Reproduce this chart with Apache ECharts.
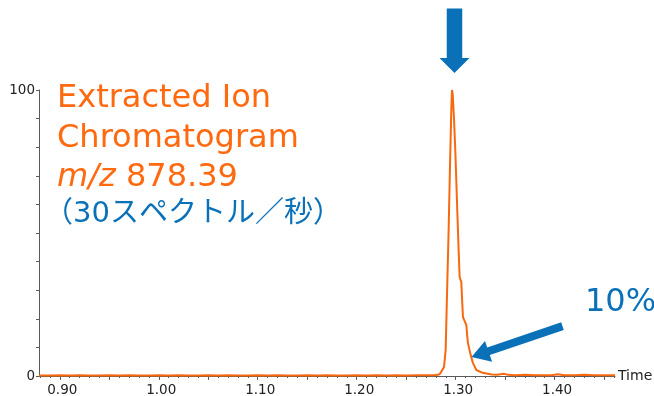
<!DOCTYPE html>
<html>
<head>
<meta charset="utf-8">
<script src="https://cdn.jsdelivr.net/npm/echarts@6/dist/echarts.min.js"></script>
<style>
  html, body { margin: 0; padding: 0; background: #ffffff; }
  #chart { width: 654px; height: 396px; }
</style>
</head>
<body>
<div id="chart"></div>
<script>
// Retention time (min) and relative intensity (%) of the extracted ion chromatogram
const times = [
  0.879, 0.89, 0.90, 0.91, 0.92, 0.93, 0.94, 0.95, 0.96, 0.97, 0.98, 0.99,
  1.00, 1.01, 1.02, 1.03, 1.04, 1.05, 1.06, 1.07, 1.08, 1.09, 1.10, 1.11,
  1.12, 1.13, 1.14, 1.15, 1.16, 1.17, 1.18, 1.19, 1.20, 1.21, 1.22, 1.23,
  1.24, 1.25, 1.26, 1.27, 1.278, 1.2818, 1.2840, 1.2859, 1.2882, 1.2899,
  1.2912, 1.2929, 1.2944, 1.2956, 1.2963, 1.2970, 1.2983, 1.2997, 1.3017,
  1.3030, 1.3040, 1.3057, 1.3065, 1.3074, 1.3091, 1.3108, 1.3116, 1.3124,
  1.3152, 1.3175, 1.3209, 1.3273, 1.3364, 1.342, 1.3485, 1.353, 1.36, 1.37,
  1.38, 1.39, 1.397, 1.403, 1.41, 1.42, 1.43, 1.44, 1.45, 1.461
];
const intensity = [
  0.2, 0.2, 0.3, 0.2, 0.3, 0.2, 0.2, 0.3, 0.2, 0.3, 0.2, 0.2,
  0.3, 0.2, 0.3, 0.2, 0.2, 0.3, 0.2, 0.3, 0.2, 0.2, 0.3, 0.2,
  0.3, 0.2, 0.2, 0.3, 0.2, 0.3, 0.2, 0.2, 0.3, 0.2, 0.3, 0.2,
  0.3, 0.2, 0.3, 0.3, 0.3, 0.4, 0.7, 1.2, 3.1, 9.1,
  27.6, 51, 75.5, 93, 100, 98.5, 90.2, 78.3, 57.3,
  44, 34.6, 32.9, 26.6, 20.6, 19.2, 17.8, 14.3, 11.5,
  7.3, 4.5, 2.1, 1.1, 0.5, 0.4, 0.8, 0.4, 0.3, 0.4,
  0.3, 0.3, 0.3, 0.6, 0.3, 0.3, 0.4, 0.3, 0.3, 0.3
];

// Axis ticks and labels
const xRange = [0.879, 1.461];
const xLabelValues = [0.90, 1.00, 1.10, 1.20, 1.30, 1.40];
const xMajorTicks = [0.90, 0.95, 1.00, 1.05, 1.10, 1.15, 1.20, 1.25, 1.30, 1.35, 1.40, 1.45];
const xMinorTicks = [];
for (let i = 88; i <= 146; i++) xMinorTicks.push(+(i / 100).toFixed(2));
const yLabelValues = [0, 100];

// Annotation point on the tailing edge of the peak
const tailPoint = [1.3160, 6.6];

const ORANGE = '#f8690f';
const TEXT_ORANGE = '#ff6a10';
const BLUE = '#0a71b9';
const AXIS = '#5a5a5a';

const chart = echarts.init(document.getElementById('chart'), null, { renderer: 'canvas' });

const seriesData = times.map((t, i) => [t, intensity[i]]);

chart.setOption({
  animation: false,
  backgroundColor: '#ffffff',
  grid: { left: 39, right: 39, top: 90, bottom: 20, containLabel: false, outerBoundsMode: 'none' },
  xAxis: [
    {
      type: 'value', position: 'bottom', min: xRange[0], max: xRange[1],
      name: 'Time', nameLocation: 'end', nameGap: 3,
      nameTextStyle: { fontFamily: 'DejaVu Sans', fontSize: 14, color: '#222', verticalAlign: 'middle', padding: [4, 0, 0, 0] },
      axisLine: { show: true, lineStyle: { color: AXIS, width: 1 } },
      axisTick: { show: true, length: 4, lineStyle: { color: AXIS }, customValues: xMajorTicks },
      axisLabel: {
        show: true, margin: 7, fontFamily: 'DejaVu Sans', fontSize: 13.5, color: '#222',
        customValues: xLabelValues, padding: [0, 0, 0, 5],
        formatter: v => v.toFixed(2)
      },
      splitLine: { show: false }
    },
    {
      type: 'value', position: 'bottom', offset: 0, min: xRange[0], max: xRange[1],
      axisLine: { show: false },
      axisTick: { show: true, length: 2, lineStyle: { color: AXIS }, customValues: xMinorTicks },
      axisLabel: { show: false },
      splitLine: { show: false }
    }
  ],
  yAxis: {
    type: 'value', min: 0, max: 100, interval: 10,
    name: '%', nameLocation: 'middle', nameGap: 5, nameRotate: 90,
    nameTextStyle: { fontFamily: 'DejaVu Sans', fontSize: 13.5, color: '#222' },
    axisLine: { show: true, lineStyle: { color: AXIS, width: 1 } },
    axisTick: { show: true, length: 3, lineStyle: { color: AXIS } },
    axisLabel: {
      show: true, margin: 4, fontFamily: 'DejaVu Sans', fontSize: 13.5, color: '#222',
      customValues: yLabelValues
    },
    splitLine: { show: false }
  },
  series: [{
    type: 'line', xAxisIndex: 0, yAxisIndex: 0, data: seriesData,
    showSymbol: false, symbol: 'none', smooth: false, z: 5,
    lineStyle: { color: ORANGE, width: 2 }
  }]
});

// Arrow polygon from the tip towards the tail
function arrowPoints(tip, tail, shaftW, headW, headL) {
  const dx = tail[0] - tip[0], dy = tail[1] - tip[1];
  const len = Math.hypot(dx, dy);
  const ux = dx / len, uy = dy / len;
  const nx = -uy, ny = ux;
  const bx = tip[0] + ux * headL, by = tip[1] + uy * headL;
  return [
    tip,
    [bx + nx * headW / 2, by + ny * headW / 2],
    [bx + nx * shaftW / 2, by + ny * shaftW / 2],
    [tail[0] + nx * shaftW / 2, tail[1] + ny * shaftW / 2],
    [tail[0] - nx * shaftW / 2, tail[1] - ny * shaftW / 2],
    [bx - nx * shaftW / 2, by - ny * shaftW / 2],
    [bx - nx * headW / 2, by - ny * headW / 2]
  ];
}

let peakIdx = 0;
intensity.forEach((v, i) => { if (v > intensity[peakIdx]) peakIdx = i; });
const apex = chart.convertToPixel({ xAxisIndex: 0, yAxisIndex: 0 }, [times[peakIdx], intensity[peakIdx]]);
const topTip = [apex[0] + 2.5, apex[1] - 17];
const tailTip = chart.convertToPixel({ xAxisIndex: 0, yAxisIndex: 0 }, tailPoint);
const tailTail = [tailTip[0] + 91, tailTip[1] - 31];

chart.setOption({
  graphic: [
    {
      type: 'polygon', z: 10,
      shape: { points: arrowPoints(topTip, [topTip[0], 8.5], 15.5, 30, 15) },
      style: { fill: BLUE }
    },
    {
      type: 'polygon', z: 10,
      shape: { points: arrowPoints(tailTip, tailTail, 8, 22, 18) },
      style: { fill: BLUE }
    },
    {
      type: 'text', left: 57, top: 83, z: 10,
      style: {
        text: '{o|Extracted Ion}\n{o|Chromatogram}\n{i|m/z}{o| 878.39}',
        rich: {
          o: { fontFamily: 'DejaVu Sans', fontSize: 32, lineHeight: 39.5, fill: TEXT_ORANGE },
          i: { fontFamily: 'DejaVu Sans', fontStyle: 'italic', fontSize: 32, lineHeight: 39.5, fill: TEXT_ORANGE }
        }
      }
    },
    {
      type: 'text', left: 44, top: 200, z: 10,
      style: {
        text: '（30スペクトル／秒）',
        fontFamily: 'DejaVu Sans, "Noto Sans CJK JP"', fontSize: 29, fill: BLUE
      }
    },
    {
      type: 'text', left: 585, top: 287, z: 10,
      style: { text: '10%', fontFamily: 'DejaVu Sans', fontSize: 32, fill: BLUE }
    }
  ]
});
</script>
</body>
</html>
